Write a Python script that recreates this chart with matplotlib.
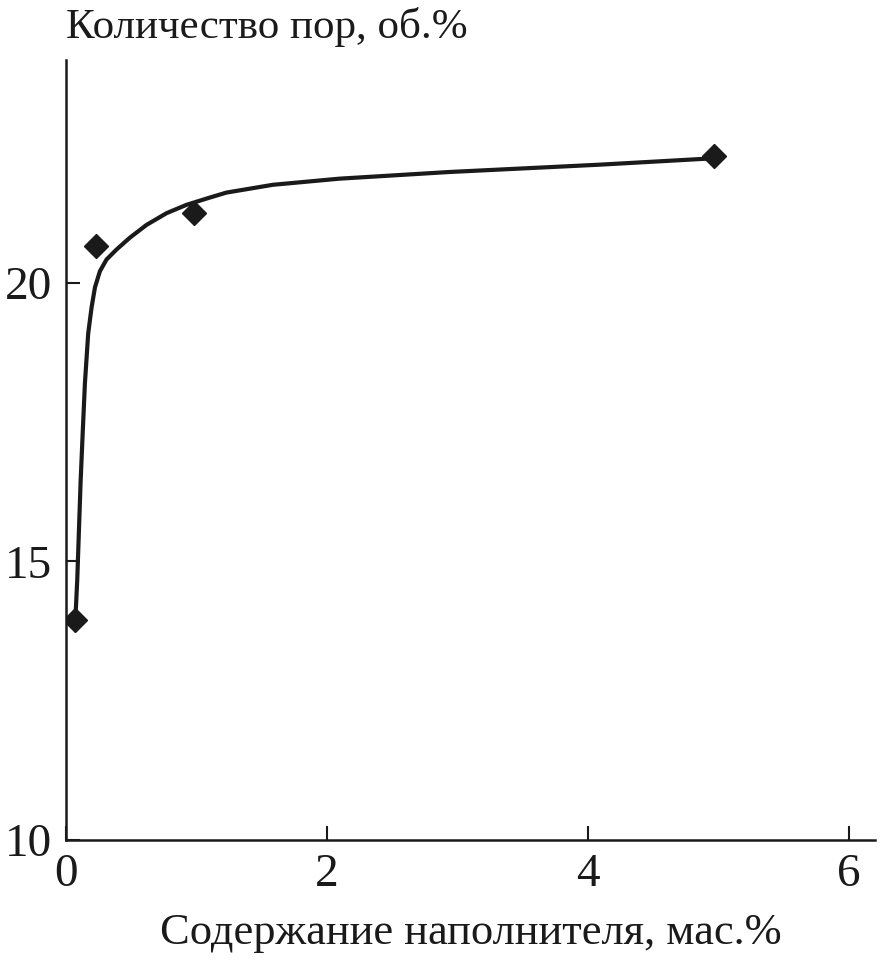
import matplotlib
matplotlib.use('Agg')
import matplotlib.pyplot as plt

plt.rcParams['font.family'] = ['Liberation Serif', 'DejaVu Serif']

# Measured points
filler = [0.07, 0.23, 0.98, 4.97]
pores = [13.95, 20.66, 21.26, 22.27]

# Smooth trend curve
curve_x = [0.072, 0.086, 0.099, 0.112, 0.128, 0.145, 0.170, 0.196, 0.222,
           0.260, 0.311, 0.388, 0.489, 0.617, 0.770, 0.923, 1.101, 1.229,
           1.585, 2.095, 2.94, 4.08, 4.92]
curve_y = [13.98, 14.66, 15.55, 16.44, 17.31, 18.20, 19.09, 19.56, 19.92,
           20.21, 20.42, 20.60, 20.81, 21.04, 21.25, 21.40, 21.53, 21.62,
           21.76, 21.87, 21.99, 22.12, 22.23]

xticks = [0, 2, 4, 6]
yticks = [10, 15, 20]

fig = plt.figure(figsize=(8.86, 9.6), dpi=100)
ax = fig.add_axes([0.0745, 0.125, 0.913, 0.8125])

ax.plot(curve_x, curve_y, color='#1a1a1a', lw=3.0, solid_capstyle='round',
        solid_joinstyle='round')
ax.plot(filler, pores, ls='none', marker='D', ms=12, color='#1a1a1a')

ax.set_xlim(0, 6.2)
ax.set_ylim(10, 24)
ax.set_xticks(xticks)
ax.set_yticks(yticks)
for s in ['top', 'right']:
    ax.spines[s].set_visible(False)
for s in ['left', 'bottom']:
    ax.spines[s].set_linewidth(1.8)
    ax.spines[s].set_color('#1a1a1a')
ax.tick_params(direction='in', length=10, width=1.5, labelsize=34,
               colors='#1a1a1a', pad=10)

ax.set_xlabel('Содержание наполнителя, мас.%', fontsize=32, labelpad=12,
              color='#1a1a1a')
fig.text(0.0745, 0.972, 'Количество пор, об.%', fontsize=31,
         ha='left', va='center', color='#1a1a1a')

fig.savefig('out.png', dpi=100)
